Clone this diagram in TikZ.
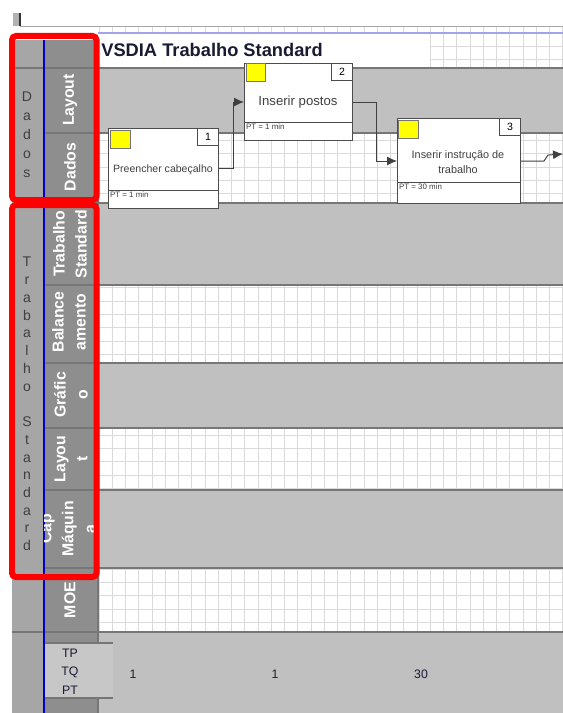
\documentclass[tikz,border=0pt]{standalone}
\usepackage{fontspec}
\setmainfont{Liberation Sans}
\usetikzlibrary{arrows.meta}
\definecolor{grpgray}{HTML}{A6A6A6}
\definecolor{lblgray}{HTML}{8E8E8E}
\definecolor{rowgray}{HTML}{C0C0C0}
\definecolor{tpgray}{HTML}{C7C7C7}
\definecolor{gridgray}{HTML}{DADADA}
\definecolor{sepgray}{HTML}{767676}
\definecolor{titlenavy}{HTML}{1A1A33}
\definecolor{markblue}{HTML}{0000CC}
\definecolor{lavender}{HTML}{A3A3EC}
\definecolor{boxyellow}{HTML}{FFFF00}

\begin{document}
\begin{tikzpicture}[x=0.02cm, y=-0.02cm,
  rowlabel/.style={rotate=90, text=white, align=center, inner sep=0pt,
    font=\fontsize{9}{12.5}\selectfont\bfseries},
  grouplabel/.style={text=black!75, align=center, inner sep=0pt},
  procbox/.style={draw=black!70, fill=white, line width=0.6pt, anchor=north west, inner sep=0pt},
  numbox/.style={draw=black!70, fill=white, line width=0.5pt, anchor=north east,
    minimum width=0.42cm, minimum height=0.34cm, inner sep=0pt, font=\fontsize{6}{7}\selectfont},
  yellowbox/.style={draw=black!55, fill=boxyellow, line width=0.4pt, anchor=north west,
    minimum width=0.4cm, minimum height=0.36cm, inner sep=0pt},
  proctext/.style={text=black!75, align=center, inner sep=0pt},
  pttext/.style={anchor=north west, text=black!75, font=\fontsize{4.5}{5}\selectfont, inner sep=1pt},
  flow/.style={draw=black!75, line width=0.55pt, -{Latex[length=2mm, width=1.8mm]}},
  frame/.style={draw=red, line width=0.12cm, rounded corners=0.08cm},
  sumtext/.style={text=titlenavy, font=\fontsize{7}{8}\selectfont, inner sep=0pt}
]
\useasboundingbox (0,0) rectangle (563,713);
\fill[white] (0,0) rectangle (563,713);

% sheet grid behind everything
\foreach \gx in {0,...,35}
  \draw[gridgray, line width=0.4pt] ({99+13.25*\gx},27) -- ({99+13.25*\gx},632);
\foreach \gy in {0,...,44}
  \draw[gridgray, line width=0.4pt] (98,{33+13.4*\gy}) -- (563,{33+13.4*\gy});

% top edge of the sheet
\fill[black!30] (13,13) rectangle (19,26);
\draw[black!80, line width=0.6pt] (20,13) -- (20,26);
\draw[black!35, line width=0.8pt] (20,26.5) -- (563,26.5);
\draw[lavender, line width=0.05cm] (98,33) -- (563,33);

% title row, plain left part
\fill[white] (98,34) rectangle (430,68);
\node[anchor=west, inner sep=0pt, text=titlenavy, font=\fontsize{10.4}{12}\selectfont\bfseries] (title) at (101,50)
  {VSDIA Trabalho Standard};

% gray swim lanes
\foreach \ya/\yb in {68/133, 203/285, 363/428, 490/568, 632/713}
  \fill[rowgray] (98,\ya) rectangle (563,\yb);

% header columns
\fill[grpgray] (12,40) rectangle (44,713);
\fill[lblgray] (44,40) rectangle (98,713);
\fill[tpgray] (44,643) rectangle (113,698);
\foreach \yy in {68,133,203,285,363,428,490,568,632}
  \draw[sepgray, line width=0.7pt] (44,\yy) -- (563,\yy);
\draw[sepgray, line width=0.7pt] (12,68) -- (44,68) (12,632) -- (44,632);
\draw[sepgray, line width=0.7pt] (98,40) -- (98,643) (98,698) -- (98,713);
\draw[sepgray, line width=0.7pt] (44,643) -- (113,643) (44,698) -- (113,698);
\draw[markblue, line width=0.04cm] (44,40) -- (44,713);

% lane labels
\node[rowlabel] (lbllayout) at (70,100) {Layout};
\node[rowlabel] (lbldados) at (70,167) {Dados};
\node[rowlabel] (lbltrab) at (70,244) {Trabalho\\Standard};
\node[rowlabel] (lblbal) at (69,322) {Balance\\amento};
\node[rowlabel] (lblgraf) at (71,395) {Gráfic\\o};
\node[rowlabel] (lbllayou) at (71,459) {Layou\\t};
\begin{scope}
  \clip (44,490) rectangle (98,568);
  \node[rowlabel] (lblcap) at (68,529) {Cap\\Máquin\\a};
\end{scope}
\node[rowlabel] (lblmoe) at (70,600) {MOE};

% group labels, one letter per line
\node[grouplabel, font=\fontsize{8}{10.8}\selectfont] (grpdados) at (27,135) {D\\a\\d\\o\\s};
\node[grouplabel, font=\fontsize{8}{10.1}\selectfont] (grptrab) at (27,404)
  {T\\r\\a\\b\\a\\l\\h\\o\\\mbox{}\\S\\t\\a\\n\\d\\a\\r\\d};

% process boxes
\node[procbox, minimum width=2.2cm, minimum height=1.6cm] (box1) at (108,128) {};
\node[yellowbox] (yel1) at ([shift={(0.04cm,-0.04cm)}]box1.north west) {};
\node[numbox] (num1) at (box1.north east) {1};
\draw[black!70, line width=0.5pt] (box1.west |- 0,190) -- (box1.east |- 0,190);
\node[proctext, font=\fontsize{6}{7.5}\selectfont] (txt1) at (163,170) {Preencher cabeçalho};
\node[pttext] (pt1) at (box1.west |- 0,190) {PT = 1 min};

\node[procbox, minimum width=2.16cm, minimum height=1.54cm] (box2) at (244,63) {};
\node[yellowbox] (yel2) at ([shift={(0.03cm,-0.01cm)}]box2.north west) {};
\node[numbox] (num2) at (box2.north east) {2};
\draw[black!70, line width=0.5pt] (box2.west |- 0,122) -- (box2.east |- 0,122);
\node[proctext, font=\fontsize{7.5}{9}\selectfont] (txt2) at (298,102) {Inserir postos};
\node[pttext] (pt2) at (box2.west |- 0,122) {PT = 1 min};

\node[procbox, minimum width=2.46cm, minimum height=1.7cm] (box3) at (397,118) {};
\node[yellowbox] (yel3) at ([shift={(0.02cm,-0.04cm)}]box3.north west) {};
\node[numbox] (num3) at (box3.north east) {3};
\draw[black!70, line width=0.5pt] (box3.west |- 0,182) -- (box3.east |- 0,182);
\node[proctext, font=\fontsize{6.2}{8.5}\selectfont] (txt3) at (458,162) {Inserir instrução de\\trabalho};
\node[pttext] (pt3) at (box3.west |- 0,182) {PT = 30 min};

% flow between steps
\coordinate (nextstep) at (563,154);
\draw[flow] (box1.east) -- ++(0.28cm,0) |- (box2.west);
\draw[flow] (box2.east) -- ++(0.46cm,0) |- (box3.west);
\draw[flow] (box3.east) -- ++(0.46cm,0) -- ++(0.08cm,0.12cm) -- (nextstep);

% summary row
\node[sumtext] (tp) at (70,653) {TP};
\node[sumtext] (tq) at (70,672) {TQ};
\node[sumtext] (pt) at (70,690) {PT};
\node[sumtext] (sum1) at (133,674) {1};
\node[sumtext] (sum2) at (275,674) {1};
\node[sumtext] (sum3) at (421,674) {30};

% highlight frames
\draw[frame] (12,36) rectangle (96.5,200);
\draw[frame] (12,205) rectangle (96.5,577);
\end{tikzpicture}
\end{document}
